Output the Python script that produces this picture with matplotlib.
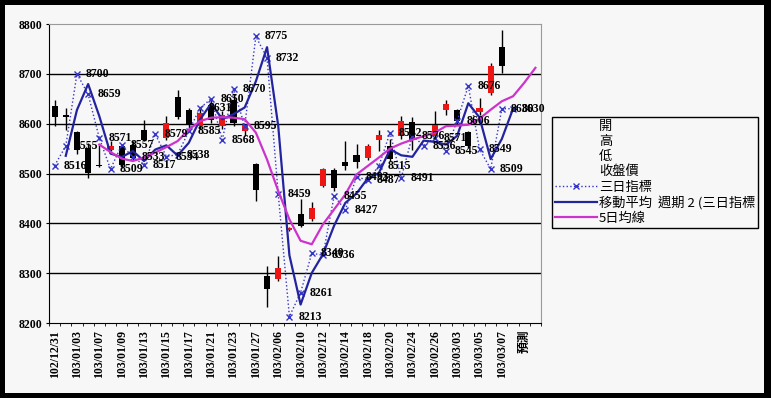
import numpy as np
import pandas as pd
import matplotlib
matplotlib.use("Agg")
import matplotlib.pyplot as plt
from matplotlib.lines import Line2D
from matplotlib.patches import Rectangle
from matplotlib.font_manager import FontProperties

# trading days (category axis), label shown on every second one
dates = [
    "102/12/31", "103/01/02", "103/01/03", "103/01/06", "103/01/07", "103/01/08",
    "103/01/09", "103/01/10", "103/01/13", "103/01/14", "103/01/15", "103/01/16",
    "103/01/17", "103/01/20", "103/01/21", "103/01/22", "103/01/23", "103/01/24",
    "103/01/27", "103/01/28", "103/02/06", "103/02/07", "103/02/10", "103/02/11",
    "103/02/12", "103/02/13", "103/02/14", "103/02/17", "103/02/18", "103/02/19",
    "103/02/20", "103/02/21", "103/02/24", "103/02/25", "103/02/26", "103/02/27",
    "103/03/03", "103/03/04", "103/03/05", "103/03/06", "103/03/07", "103/03/10",
    "預測", "",
]

nan = np.nan
opens = [8636, 8617, 8583, 8551, 8517, 8548, 8555, 8558, 8588, nan, 8571, 8653,
         8628, 8595, 8638, 8595, 8648, 8585, 8520, 8295, 8289, 8386, 8419, 8408,
         8475, 8507, 8524, 8538, 8531, 8567, 8556, 8575, 8603, nan, 8575, 8627,
         8627, 8584, 8623, 8661, 8753]
highs = [8648, 8631, 8585, 8562, 8558, 8565, 8558, 8565, 8608, nan, 8615, 8668,
         8632, 8632, 8648, 8625, 8660, 8600, 8522, 8315, 8335, 8392, 8448, 8442,
         8511, 8512, 8565, 8560, 8560, 8588, 8570, 8615, 8613, nan, 8625, 8648,
         8630, 8586, 8651, 8721, 8788]
lows = [8596, 8588, 8540, 8491, 8514, 8545, 8511, 8528, 8565, nan, 8568, 8609,
        8592, 8590, 8602, 8590, 8595, 8576, 8445, 8233, 8285, 8384, 8392, 8405,
        8473, 8465, 8508, 8511, 8528, 8545, 8525, 8570, 8548, nan, 8570, 8618,
        8598, 8552, 8618, 8658, 8701]
closes = [8613, 8614, 8547, 8501, 8515, 8556, 8518, 8531, 8568, nan, 8601, 8613,
          8598, 8621, 8608, 8617, 8601, 8598, 8467, 8269, 8311, 8390, 8395, 8431,
          8509, 8471, 8515, 8523, 8556, 8578, 8530, 8605, 8568, nan, 8597, 8640,
          8605, 8555, 8631, 8715, 8715]

three_day = [8516, 8555, 8700, 8659, 8571, 8509, 8557, 8533, 8517, 8579, 8534,
             8538, 8585, 8631, 8650, 8568, 8670, 8595, 8775, 8732, 8459, 8213,
             8261, 8340, 8336, 8455, 8427, 8493, 8487, 8515, 8582, 8491, 8576,
             8556, 8571, 8545, 8606, 8676, 8549, 8509, 8630, 8630]

ma5_start = 4
ma5 = [8558, 8543, 8530, 8525, 8532, 8542, 8553, 8565, 8588, 8605, 8612, 8613,
       8612, 8609, 8582, 8528, 8465, 8408, 8365, 8358, 8398, 8428, 8458, 8498,
       8515, 8532, 8550, 8560, 8568, 8575, 8582, 8595, 8596, 8598, 8610, 8628,
       8645, 8655, 8682, 8712]

W, H = 771, 398
fig = plt.figure(figsize=(W / 100, H / 100), dpi=100)
fig.patch.set_facecolor("black")
fig.patches.append(Rectangle((5 / W, 5 / H), 759 / W, 388 / H,
                             transform=fig.transFigure, facecolor="#f7f7f7",
                             edgecolor="none", zorder=-10))

ax = fig.add_axes([49 / W, (H - 323) / H, 492 / W, 299 / H])
ax.set_facecolor("none")

num_font = dict(family="Liberation Serif", size=8.5, weight="bold")
cjk = ["Noto Sans CJK TC", "DejaVu Sans"]

dot_color = "#3535c8"
ma_color = "#2323a0"
mag_color = "#cc33cc"
up_color = "#ee1515"

# horizontal gridlines
for v in range(8300, 8800, 100):
    ax.axhline(v, color="black", lw=1, zorder=1)

# candles
x = np.arange(len(opens))
o = np.array(opens, dtype=float)
c = np.array(closes, dtype=float)
hi = np.array(highs, dtype=float)
lo = np.array(lows, dtype=float)
ok = ~np.isnan(o)
ax.vlines(x[ok], lo[ok], hi[ok], color="black", lw=1, zorder=2)
up = ok & (c >= o)
dn = ok & (c < o)
bw = 0.55
ax.bar(x[up], c[up] - o[up], bottom=o[up], width=bw, color=up_color, zorder=3)
ax.bar(x[dn], o[dn] - c[dn], bottom=c[dn], width=bw, color="black", zorder=3)

# three-day indicator and its 2-period moving average
x3 = np.arange(len(three_day))
ax.plot(x3, three_day, ls=":", color=dot_color, lw=1, marker="x", ms=5,
        mew=1, zorder=4)
ma2 = pd.Series(three_day, dtype=float).rolling(2).mean()
ax.plot(x3, ma2, color=ma_color, lw=1.6, zorder=5)

# 5-day average
x5 = np.arange(ma5_start, ma5_start + len(ma5))
ax.plot(x5, ma5, color=mag_color, lw=1.6, zorder=5)

for i, v in enumerate(three_day):
    ax.annotate(f"{v:.0f}", (i, v), xytext=(6.5, 0), textcoords="offset points",
                ha="left", va="center", zorder=7, **num_font)

ax.set_xlim(-0.5, len(dates) - 0.5)
ax.set_ylim(8200, 8800)
ax.set_yticks(range(8200, 8801, 100))
ax.set_yticklabels([str(v) for v in range(8200, 8801, 100)], **num_font)
ax.tick_params(axis="y", length=2, pad=3, color="black")

ax.set_xticks(np.arange(0, len(dates), 2))
ax.set_xticklabels(dates[::2], rotation=90, size=8.5, weight="bold")
for lab in ax.get_xticklabels():
    lab.set_fontfamily(["Liberation Serif", "Noto Sans CJK TC"])
ax.set_xticks(np.arange(-0.5, len(dates), 1), minor=True)
ax.tick_params(axis="x", which="major", length=0, pad=5)
ax.tick_params(axis="x", which="minor", length=2.5, color="black")

for side in ("top", "right"):
    ax.spines[side].set_color("#9a9a9a")
for side in ("left", "bottom"):
    ax.spines[side].set_color("black")

handles = [Line2D([], [], ls="none") for _ in range(4)] + [
    Line2D([], [], ls=":", color=dot_color, lw=1, marker="x", ms=5, mew=1),
    Line2D([], [], color=ma_color, lw=1.6),
    Line2D([], [], color=mag_color, lw=1.6),
]
labels = ["開", "高", "低", "收盤價", "三日指標", "移動平均  週期 2 (三日指標", "5日均線"]
leg = fig.legend(handles, labels, loc="upper left",
                 bbox_to_anchor=(552 / W, 1 - 117 / H), bbox_transform=fig.transFigure,
                 frameon=True, fancybox=False, edgecolor="black", facecolor="#f7f7f7",
                 framealpha=1, borderpad=0.2, borderaxespad=0, handlelength=3.2,
                 handletextpad=0.15, labelspacing=0.17, numpoints=1,
                 prop=FontProperties(family=cjk, size=9.5))
leg.get_frame().set_linewidth(1)

fig.savefig("out.png", dpi=100, facecolor=fig.get_facecolor())
